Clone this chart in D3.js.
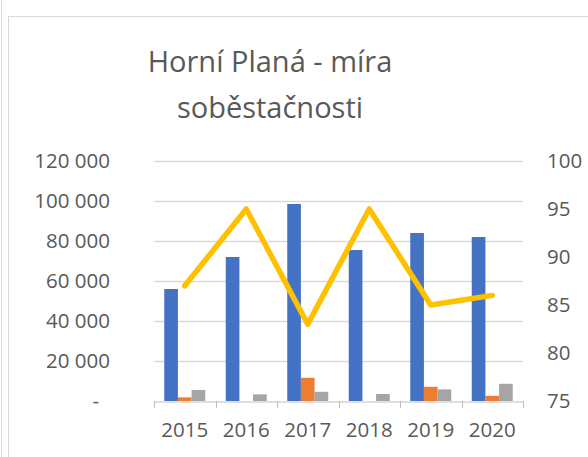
<!DOCTYPE html>
<html>
<head>
<meta charset="utf-8">
<script src="https://cdn.jsdelivr.net/npm/d3@7"></script>
<style>
  html, body { margin: 0; padding: 0; background: #fff; }
  svg { display: block; font-family: "Open Sans", sans-serif; }
</style>
</head>
<body>
<div id="chart"></div>
<script>
// values
const years = ['2015', '2016', '2017', '2018', '2019', '2020'];
const seriesBlue = [56000, 72000, 98500, 75500, 84000, 82000];
const seriesOrange = [1800, 0, 11600, 0, 7100, 2600];
const seriesGray = [5500, 3300, 4600, 3500, 5800, 8600];
const ratio = [87, 95, 83, 95, 85, 86];
const leftTicks = [0, 20000, 40000, 60000, 80000, 100000, 120000];
const rightTicks = [75, 80, 85, 90, 95, 100];

const W = 588, H = 457;
const plot = { left: 154, right: 523, top: 161, bottom: 401 };
const textColor = '#595959';
const colors = ['#4472C4', '#ED7D31', '#A5A5A5'];

const svg = d3.select('#chart').append('svg')
  .attr('width', W)
  .attr('height', H);

// chart frame
svg.append('line')
  .attr('x1', 1.5).attr('x2', 1.5).attr('y1', 0).attr('y2', H)
  .attr('stroke', '#d9d9d9');
svg.append('rect')
  .attr('x', 8.5).attr('y', 16.5)
  .attr('width', W + 10).attr('height', H + 10)
  .attr('fill', 'none')
  .attr('stroke', '#d9d9d9');

const x = d3.scaleBand().domain(years).range([plot.left, plot.right]).paddingInner(0).paddingOuter(0);
const yL = d3.scaleLinear().domain([0, 120000]).range([plot.bottom, plot.top]);
const yR = d3.scaleLinear().domain([75, 100]).range([plot.bottom, plot.top]);

const fmt = v => v === 0 ? '-' : d3.format(',')(v).replace(/,/g, ' ');

// gridlines
svg.append('g')
  .selectAll('line')
  .data(leftTicks.filter(d => d > 0))
  .join('line')
  .attr('x1', plot.left).attr('x2', plot.right)
  .attr('y1', d => Math.round(yL(d)) + 0.5)
  .attr('y2', d => Math.round(yL(d)) + 0.5)
  .attr('stroke', '#d9d9d9')
  .attr('stroke-width', 1.3);

// bars
const inner = d3.scaleBand()
  .domain([0, 1, 2])
  .range([0, x.bandwidth()])
  .paddingInner(0)
  .paddingOuter(0.75);

const seriesList = [seriesBlue, seriesOrange, seriesGray];
seriesList.forEach((vals, si) => {
  svg.append('g')
    .selectAll('rect')
    .data(vals)
    .join('rect')
    .attr('x', (d, i) => x(years[i]) + inner(si))
    .attr('width', inner.bandwidth())
    .attr('y', d => yL(d))
    .attr('height', d => yL(0) - yL(d))
    .attr('fill', colors[si]);
});

// category axis
const xAxis = svg.append('g')
  .attr('transform', `translate(0,${plot.bottom + 0.5})`)
  .call(d3.axisBottom(x).tickSize(0).tickPadding(21));
xAxis.select('.domain').attr('stroke', '#bfbfbf');
xAxis.selectAll('text')
  .attr('fill', textColor)
  .attr('font-size', '20.5px')
  .attr('font-family', '"Open Sans", sans-serif');
svg.append('g')
  .selectAll('line')
  .data(d3.range(years.length + 1))
  .join('line')
  .attr('x1', i => Math.round(plot.left + i * x.bandwidth()) + 0.5)
  .attr('x2', i => Math.round(plot.left + i * x.bandwidth()) + 0.5)
  .attr('y1', plot.bottom)
  .attr('y2', plot.bottom + 7)
  .attr('stroke', '#bfbfbf');

// left axis labels
const yAxisL = svg.append('g')
  .attr('transform', `translate(110,0)`)
  .call(d3.axisLeft(yL).tickValues(leftTicks).tickFormat(fmt).tickSize(0).tickPadding(0));
yAxisL.select('.domain').remove();
yAxisL.selectAll('text')
  .attr('fill', textColor)
  .attr('font-size', '20.5px')
  .attr('font-family', '"Open Sans", sans-serif')
  .attr('dx', d => d === 0 ? -11 : 0);

// right axis labels
const yAxisR = svg.append('g')
  .attr('transform', `translate(547,0)`)
  .call(d3.axisRight(yR).tickValues(rightTicks).tickSize(0).tickPadding(0));
yAxisR.select('.domain').remove();
yAxisR.selectAll('text')
  .attr('fill', textColor)
  .attr('font-size', '20.5px')
  .attr('font-family', '"Open Sans", sans-serif');

// line series
const line = d3.line()
  .x((d, i) => x(years[i]) + x.bandwidth() / 2)
  .y(d => yR(d));
svg.append('path')
  .datum(ratio)
  .attr('d', line)
  .attr('fill', 'none')
  .attr('stroke', '#FFC000')
  .attr('stroke-width', 5.5)
  .attr('stroke-linejoin', 'round')
  .attr('stroke-linecap', 'round');

// title
const title = svg.append('text')
  .attr('x', 270)
  .attr('text-anchor', 'middle')
  .attr('fill', textColor)
  .attr('font-size', '29px');
title.append('tspan').attr('x', 270).attr('y', 72).text('Horní Planá - míra');
title.append('tspan').attr('x', 270).attr('y', 118).text('soběstačnosti');
</script>
</body>
</html>
